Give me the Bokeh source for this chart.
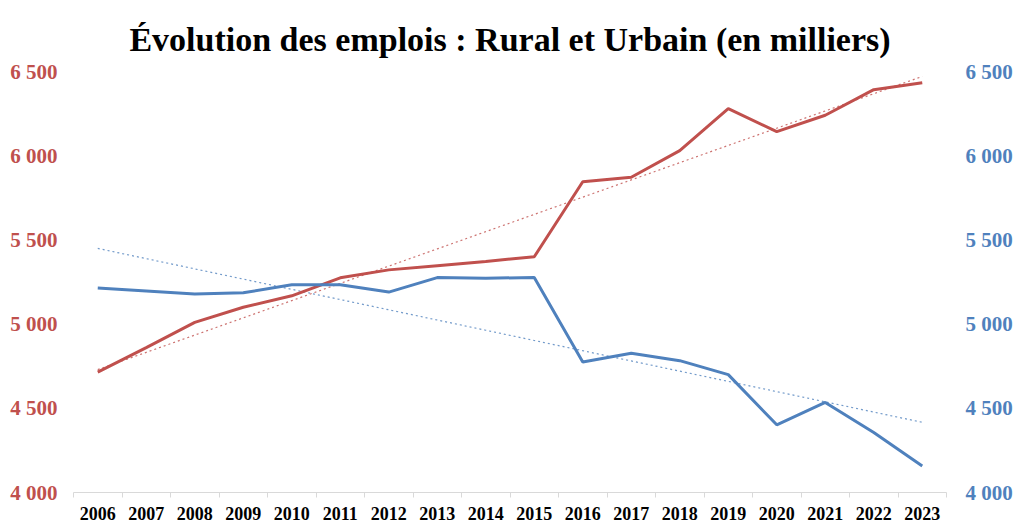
import numpy as np
from bokeh.plotting import figure
from bokeh.models import LinearAxis, Range1d, FixedTicker
from bokeh.embed import file_html
from bokeh.resources import INLINE

# data (en milliers)
years = ["2006", "2007", "2008", "2009", "2010", "2011", "2012", "2013", "2014",
         "2015", "2016", "2017", "2018", "2019", "2020", "2021", "2022", "2023"]
urbain = [4715, 4860, 5010, 5100, 5168, 5275, 5322, 5347, 5372, 5400,
          5845, 5872, 6030, 6280, 6143, 6240, 6392, 6433]
rural = [5215, 5197, 5179, 5186, 5234, 5234, 5190, 5276, 5273, 5276,
         4775, 4827, 4783, 4700, 4402, 4535, 4356, 4158]
y_ticks = [4000, 4500, 5000, 5500, 6000, 6500]

red = "#C0504D"
blue = "#4F81BD"
font = "Liberation Serif"

x = list(range(len(years)))

p = figure(width=1016, height=524, output_backend="svg", toolbar_location=None,
           x_range=(-0.5, len(years) - 0.5), y_range=Range1d(4000, 6500),
           title="Évolution des emplois : Rural et Urbain (en milliers)",
           min_border_left=73, min_border_right=70, min_border_top=71, min_border_bottom=32)
p.extra_y_ranges = {"right": Range1d(4000, 6500)}

p.title.text_font = font
p.title.text_font_size = "34px"
p.title.text_font_style = "bold"
p.title.align = "center"
p.title.text_color = "black"
p.title.standoff = 28

p.outline_line_color = None
p.grid.grid_line_color = None

# trend lines (linear fit)
cu = np.polyfit(x, urbain, 1)
cr = np.polyfit(x, rural, 1)
p.line(x, np.polyval(cu, x), line_color=red, line_width=1.2, line_dash="2 3", line_alpha=0.8)
p.line(x, np.polyval(cr, x), line_color=blue, line_width=1.2, line_dash="2 3", line_alpha=0.8,
       y_range_name="right")

p.line(x, urbain, line_color=red, line_width=3)
p.line(x, rural, line_color=blue, line_width=3, y_range_name="right")

labels = {t: f"{t // 1000} {t % 1000:03d}" for t in y_ticks}

# x axis
p.xaxis.ticker = FixedTicker(ticks=x, minor_ticks=[i - 0.5 for i in range(len(years) + 1)])
p.xaxis.major_label_overrides = {i: y for i, y in enumerate(years)}
p.xaxis.major_tick_line_color = None
p.xaxis.minor_tick_line_color = "#D9D9D9"
p.xaxis.minor_tick_out = 5
p.xaxis.minor_tick_in = 0
p.xaxis.axis_line_color = "#D9D9D9"
p.xaxis.major_label_text_font = font
p.xaxis.major_label_text_font_size = "18px"
p.xaxis.major_label_text_font_style = "bold"
p.xaxis.major_label_text_color = "black"
p.xaxis.major_label_standoff = 8

# left axis
p.yaxis.ticker = FixedTicker(ticks=y_ticks)
p.yaxis.major_label_overrides = labels
p.yaxis.axis_line_color = None
p.yaxis.major_tick_line_color = None
p.yaxis.minor_tick_line_color = None
p.yaxis.major_label_text_font = font
p.yaxis.major_label_text_font_size = "21px"
p.yaxis.major_label_text_font_style = "bold"
p.yaxis.major_label_text_color = red
p.yaxis.major_label_standoff = 10

# right axis
ax = LinearAxis(y_range_name="right", ticker=FixedTicker(ticks=y_ticks))
ax.major_label_overrides = labels
ax.axis_line_color = None
ax.major_tick_line_color = None
ax.minor_tick_line_color = None
ax.major_label_text_font = font
ax.major_label_text_font_size = "21px"
ax.major_label_text_font_style = "bold"
ax.major_label_text_color = blue
ax.major_label_standoff = 13
p.add_layout(ax, "right")

open("out.html", "w").write(file_html(p, INLINE))
